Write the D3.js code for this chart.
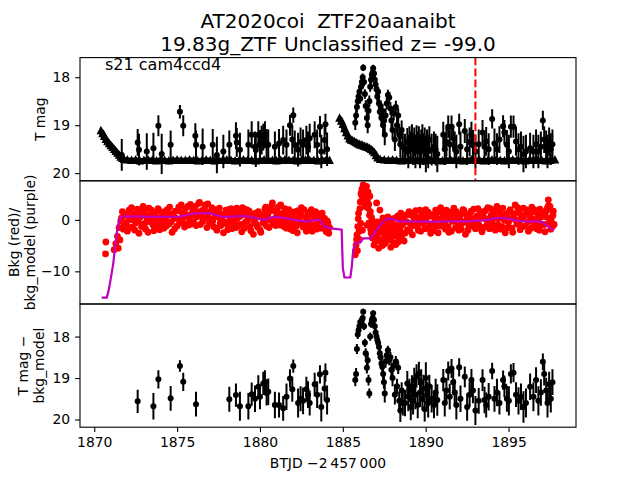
<!DOCTYPE html>
<html><head><meta charset="utf-8">
<script src="https://cdn.jsdelivr.net/npm/d3@7"></script>
<style>
body{margin:0;background:#fff;}
svg text{font-family:"DejaVu Sans",sans-serif;fill:#000;white-space:pre;}
</style></head>
<body><svg id="chart" width="640" height="480"></svg>
<script>
// ---------------- data ----------------
const titleLines = ["AT2020coi  ZTF20aanaibt", "19.83g_ZTF Unclassified z= -99.0"];
const panelNote = "s21 cam4ccd4";
const xLabel = "BTJD \u22122\u2009457\u2009000";
const yLabels = [["T mag"], ["Bkg (red)/", "bkg_model (purple)"], ["T mag \u2212", "bkg_model"]];
const xTicks = [1870, 1875, 1880, 1885, 1890, 1895];
const yTicks1 = [18, 19, 20];
const yTicks2 = [0, -10];
const yTicks3 = [18, 19, 20];
const markerTime = 1893.0;

// upper-limit triangles (TESS), two orbits
const limA = [[1870.40,19.10],[1870.50,19.16],[1870.60,19.22],[1870.70,19.28],[1870.80,19.33],[1870.90,19.37],
[1871.00,19.41],[1871.10,19.45],[1871.20,19.49],[1871.30,19.53],[1871.40,19.57],[1871.50,19.61],[1871.60,19.65],
[1871.70,19.68],[1871.80,19.70],[1872.00,19.71],[1872.25,19.72],[1872.50,19.71],[1872.75,19.73],[1873.00,19.72],
[1873.25,19.71],[1873.50,19.72],[1873.75,19.73],[1874.00,19.71],[1874.25,19.72],[1874.50,19.73],[1874.75,19.72],
[1875.00,19.71],[1875.25,19.72],[1875.50,19.72],[1875.75,19.71],[1876.00,19.72],[1876.25,19.73],[1876.50,19.72],
[1876.75,19.71],[1877.00,19.72],[1877.25,19.73],[1877.50,19.72],[1877.75,19.72],[1878.00,19.71],[1878.25,19.72],
[1878.50,19.73],[1878.75,19.72],[1879.00,19.71],[1879.25,19.72],[1879.50,19.72],[1879.75,19.73],[1880.00,19.72],
[1880.25,19.71],[1880.50,19.72],[1880.75,19.72],[1881.00,19.73],[1881.25,19.72],[1881.50,19.71],[1881.75,19.72],
[1882.00,19.72],[1882.25,19.73],[1882.50,19.72],[1882.75,19.71],[1883.00,19.72],[1883.25,19.72],[1883.50,19.73],
[1883.75,19.72],[1884.00,19.71],[1884.20,19.72]];
const limB = [[1884.80,18.84],[1884.90,18.90],[1885.00,18.97],[1885.10,19.06],[1885.20,19.14],[1885.30,19.21],
[1885.40,19.27],[1885.50,19.30],[1885.60,19.31],[1885.70,19.33],[1885.80,19.35],[1885.90,19.37],[1886.00,19.39],
[1886.10,19.40],[1886.20,19.41],[1886.30,19.43],[1886.40,19.44],[1886.50,19.45],[1886.60,19.47],[1886.70,19.49],
[1886.80,19.52],[1886.90,19.56],[1887.00,19.62],[1887.10,19.67],[1887.25,19.70],[1887.50,19.71],[1887.75,19.72],
[1888.00,19.71],[1888.25,19.72],[1888.50,19.73],[1888.75,19.72],[1889.00,19.71],[1889.25,19.72],[1889.50,19.72],
[1889.75,19.73],[1890.00,19.72],[1890.25,19.71],[1890.50,19.72],[1890.75,19.72],[1891.00,19.73],[1891.25,19.72],
[1891.50,19.71],[1891.75,19.72],[1892.00,19.72],[1892.25,19.73],[1892.50,19.72],[1892.75,19.71],[1893.00,19.72],
[1893.25,19.72],[1893.50,19.73],[1893.75,19.72],[1894.00,19.71],[1894.25,19.72],[1894.50,19.72],[1894.75,19.73],
[1895.00,19.72],[1895.25,19.71],[1895.50,19.72],[1895.75,19.72],[1896.00,19.73],[1896.25,19.72],[1896.50,19.71],
[1896.75,19.72],[1897.00,19.72],[1897.25,19.73],[1897.50,19.72],[1897.80,19.71]];

// detections: [time, T mag, error, T mag - bkg_model (null if not shown)]
const detections = [
[1871.66,19.62,0.33,null],[1872.62,19.36,0.28,19.56],[1872.70,19.51,0.33,null],[1873.17,19.55,0.38,null],
[1873.57,19.48,0.32,19.68],[1873.87,19.01,0.22,19.03],[1874.07,19.60,0.42,null],[1874.61,19.41,0.30,19.49],
[1875.17,18.72,0.14,18.71],[1875.37,19.01,0.22,19.09],[1876.10,19.22,0.26,null],[1876.14,19.41,0.30,19.63],
[1876.54,19.45,0.38,null],[1877.15,19.41,0.33,null],[1877.40,19.62,0.38,null],[1877.79,19.55,0.35,null],
[1878.15,19.41,0.30,19.51],[1878.55,19.22,0.28,19.41],[1878.60,19.36,0.30,null],[1878.79,19.51,0.35,19.68],
[1879.30,19.41,0.32,19.68],[1879.50,19.20,0.28,19.39],[1879.70,19.45,0.32,19.50],[1879.75,19.52,0.35,null],
[1879.90,19.20,0.28,19.21],[1880.00,19.40,0.30,19.45],[1880.10,19.31,0.30,null],[1880.20,19.25,0.28,19.13],
[1880.30,19.20,0.28,19.09],[1880.40,19.38,0.30,19.36],[1880.50,19.41,0.32,19.33],[1880.90,19.45,0.32,19.65],
[1881.15,19.38,0.30,19.65],[1881.40,19.31,0.30,19.73],[1881.60,19.41,0.32,19.45],[1881.81,19.00,0.22,19.01],
[1881.95,19.30,0.30,19.27],[1882.01,18.79,0.16,18.71],[1882.10,19.41,0.30,null],[1882.30,19.51,0.35,19.60],
[1882.45,19.35,0.30,19.50],[1882.60,19.41,0.32,19.55],[1882.80,19.31,0.30,19.27],[1882.90,19.45,0.32,19.40],
[1883.00,19.27,0.30,19.60],[1883.30,19.20,0.28,19.15],[1883.45,19.41,0.32,19.40],[1883.62,19.03,0.22,18.91],
[1883.70,19.55,0.35,19.70],[1883.90,19.31,0.30,19.25],[1883.95,18.98,0.22,18.87],[1884.05,19.50,0.35,19.53],
[1885.75,18.95,0.15,19.05],[1885.80,18.80,0.14,18.90],[1885.85,18.62,0.12,18.30],[1885.90,18.50,0.11,17.95],
[1885.95,18.40,0.10,17.85],[1886.00,18.30,0.10,17.75],[1886.05,18.45,0.10,17.65],[1886.10,18.20,0.09,17.70],
[1886.15,18.10,0.09,17.60],[1886.20,18.00,0.08,17.55],[1886.23,17.80,0.07,17.40],[1886.28,18.10,0.09,17.75],
[1886.33,18.35,0.10,18.15],[1886.38,18.60,0.12,18.40],[1886.45,18.85,0.14,18.75],[1886.50,19.00,0.17,18.57],
[1886.55,18.70,0.13,19.05],[1886.60,18.50,0.12,19.37],[1886.65,18.20,0.10,18.00],[1886.70,18.05,0.09,17.70],
[1886.75,17.95,0.08,17.60],[1886.80,17.90,0.08,17.55],[1886.83,17.81,0.07,17.44],[1886.88,17.92,0.08,17.60],
[1886.93,18.05,0.09,17.75],[1886.98,18.15,0.09,17.90],[1887.03,18.25,0.10,18.00],[1887.08,18.40,0.11,18.08],
[1887.13,18.30,0.10,18.15],[1887.18,18.55,0.12,18.25],[1887.23,18.72,0.13,18.40],[1887.28,18.60,0.12,18.50],
[1887.33,18.85,0.15,18.65],[1887.38,18.70,0.14,18.73],[1887.43,19.00,0.18,18.90],[1887.48,18.90,0.16,19.10],
[1887.53,19.20,0.22,19.37],[1887.58,18.80,0.15,18.60],[1887.65,18.55,0.12,18.45],[1887.72,18.37,0.11,18.33],
[1887.80,18.42,0.12,18.57],[1887.87,18.65,0.13,18.50],[1887.93,18.90,0.16,18.80],[1888.00,19.10,0.20,19.00],
[1888.07,18.75,0.14,18.70],[1888.14,19.30,0.24,19.40],[1888.20,18.62,0.13,18.60],[1888.27,19.00,0.18,19.20],
[1888.34,18.80,0.15,18.75],[1888.40,19.20,0.22,19.55],[1888.47,19.40,0.28,19.78],[1888.55,19.10,0.20,19.30],
[1888.62,19.45,0.30,19.60],[1888.75,19.50,0.32,19.60],[1888.89,19.36,0.30,19.13],[1888.95,19.55,0.35,19.45],
[1889.02,19.30,0.28,19.30],[1889.10,19.45,0.32,19.70],[1889.17,19.25,0.27,19.20],[1889.24,19.50,0.33,19.55],
[1889.31,19.35,0.30,19.05],[1889.38,19.55,0.35,19.40],[1889.45,19.28,0.28,18.95],[1889.52,19.45,0.32,19.65],
[1889.59,19.30,0.28,18.89],[1889.66,19.55,0.35,19.35],[1889.73,19.40,0.31,19.10],[1889.80,19.25,0.27,19.50],
[1889.87,19.50,0.33,19.25],[1889.94,19.35,0.30,19.75],[1890.01,19.60,0.38,19.00],[1890.08,19.40,0.31,19.40],
[1890.15,19.55,0.35,19.60],[1890.22,19.30,0.28,19.20],[1890.36,19.51,0.33,19.50],[1890.50,19.45,0.32,19.65],
[1890.60,19.51,0.33,19.35],[1890.70,19.60,0.38,19.53],[1891.06,19.20,0.27,19.05],[1891.15,19.50,0.33,19.60],
[1891.25,19.35,0.30,19.30],[1891.36,19.03,0.23,18.83],[1891.45,19.40,0.31,19.45],[1891.56,19.03,0.23,18.77],
[1891.66,19.27,0.28,19.10],[1891.75,19.45,0.32,19.35],[1891.85,19.55,0.35,19.65],[1892.02,18.98,0.22,18.74],
[1892.10,19.45,0.32,19.50],[1892.36,19.12,0.25,18.97],[1892.50,19.50,0.33,19.70],[1892.65,19.35,0.30,19.40],
[1892.76,19.20,0.27,19.05],[1892.85,19.41,0.31,19.30],[1893.00,19.55,0.35,19.78],[1893.20,19.40,0.31,19.55],
[1893.43,19.15,0.26,19.05],[1893.55,19.45,0.32,19.53],[1893.65,19.34,0.30,19.65],[1893.80,19.50,0.33,19.45],
[1894.01,18.87,0.20,18.83],[1894.15,19.38,0.31,19.50],[1894.30,19.50,0.33,19.35],[1894.45,19.30,0.28,19.60],
[1894.67,19.02,0.23,19.05],[1894.75,19.15,0.26,19.20],[1894.90,19.41,0.31,19.50],[1895.02,19.55,0.35,19.55],
[1895.14,19.03,0.23,18.90],[1895.30,19.03,0.23,18.87],[1895.45,19.34,0.30,19.40],[1895.60,19.50,0.33,19.55],
[1895.75,19.45,0.32,19.45],[1895.90,19.60,0.38,19.70],[1896.05,19.55,0.35,19.60],[1896.30,19.48,0.32,19.21],
[1896.50,19.55,0.35,19.45],[1896.66,19.40,0.31,19.05],[1896.80,19.55,0.35,19.55],[1896.95,19.45,0.32,19.35],
[1897.07,18.90,0.20,18.61],[1897.15,19.30,0.28,18.90],[1897.27,19.42,0.31,19.30],[1897.35,19.55,0.35,19.60],
[1897.45,19.35,0.30,19.15],[1897.55,19.50,0.33,19.50],[1897.65,19.40,0.31,19.10]];

// background flux (red points), read in two interleaved passes
const bkgPts = [
[1870.70,-4.3],[1870.68,-6.6],[1871.20,-5.8],[1871.30,-4.6],[1871.40,-3.2],[1871.45,-5.5],[1871.50,-1.5],[1871.55,-3.9],
[1871.60,-0.2],[1871.70,1.6],[1871.80,-1.0],[1871.90,0.9],[1872.00,-2.2],[1872.10,1.9],[1872.20,0.1],[1872.30,-1.4],
[1872.40,1.2],[1872.50,-0.6],[1872.60,2.1],[1872.70,-2.6],[1872.80,0.6],[1872.90,-0.9],[1873.00,1.5],[1873.10,-1.8],
[1873.20,0.3],[1873.30,2.3],[1873.40,-0.4],[1873.50,1.0],[1873.60,-2.1],[1873.70,0.7],[1873.80,-1.1],[1873.90,1.8],
[1874.00,-0.3],[1874.10,1.3],[1874.20,-1.6],[1874.30,0.2],[1874.40,2.0],[1874.50,-0.8],[1874.60,1.1],[1874.70,-2.4],
[1874.80,0.5],[1874.90,1.7],[1875.00,-1.2],[1875.10,2.5],[1875.20,0.0],[1875.30,1.4],[1875.40,-0.7],[1875.50,2.2],
[1875.60,0.8],[1875.70,-1.0],[1875.80,3.0],[1875.90,1.2],[1876.00,-0.4],[1876.10,2.6],[1876.20,0.6],[1876.30,3.2],
[1876.40,-0.9],[1876.50,1.8],[1876.60,0.3],[1876.70,2.9],[1876.80,-1.5],[1876.90,1.4],[1877.00,0.2],[1877.10,2.4],
[1877.20,-1.3],[1877.30,0.9],[1877.40,-2.0],[1877.50,1.5],[1877.60,-0.6],[1877.70,0.4],[1877.80,-2.5],[1877.90,1.2],
[1878.00,-0.8],[1878.10,2.0],[1878.20,0.1],[1878.30,-1.7],[1878.40,1.6],[1878.50,-0.2],[1878.60,2.3],[1878.70,-1.1],
[1878.80,0.7],[1878.90,-2.3],[1879.00,1.3],[1879.10,-0.5],[1879.20,2.0],[1879.30,0.4],[1879.40,-1.4],[1879.50,1.1],
[1879.60,-2.8],[1879.70,0.2],[1879.80,-0.9],[1879.90,1.6],[1880.00,-1.9],[1880.10,0.5],[1880.20,-0.6],[1880.30,2.1],
[1880.40,-1.2],[1880.50,1.3],[1880.60,0.0],[1880.70,2.7],[1880.80,-0.8],[1880.90,1.7],[1881.00,0.6],[1881.10,2.5],
[1881.20,-1.0],[1881.30,1.2],[1881.40,-0.3],[1881.50,2.2],[1881.60,-1.6],[1881.70,0.8],[1881.80,-0.7],[1881.90,1.5],
[1882.00,-2.1],[1882.10,0.3],[1882.20,-1.2],[1882.30,1.8],[1882.40,-0.5],[1882.50,2.4],[1882.60,-1.4],[1882.70,0.6],
[1882.80,-2.2],[1882.90,1.4],[1883.00,-0.4],[1883.10,2.0],[1883.20,-1.0],[1883.30,0.9],[1883.40,-1.8],[1883.50,1.2],
[1883.60,-0.2],[1883.70,0.9],[1883.80,-1.4],[1883.90,0.3],[1884.00,-2.3],[1884.10,-0.6],[1884.20,-1.5],
[1885.75,-6.8],[1885.80,-4.9],[1885.85,-2.9],[1885.90,-1.3],[1885.95,1.3],[1886.00,-3.8],[1886.05,3.5],[1886.10,5.2],
[1886.13,4.8],[1886.18,-2.0],[1886.23,6.8],[1886.28,3.3],[1886.33,5.9],[1886.38,4.2],[1886.43,6.5],[1886.48,3.9],
[1886.53,5.4],[1886.58,-0.6],[1886.63,4.6],[1886.68,-1.8],[1886.73,0.5],[1886.78,-3.5],[1886.83,-0.8],[1886.88,-4.9],
[1886.93,-1.6],[1886.98,-2.8],[1887.04,3.3],[1887.10,-0.4],[1887.16,-5.5],[1887.24,1.9],[1887.30,-2.2],[1887.36,-3.9],
[1887.42,0.4],[1887.48,-1.4],[1887.54,-4.6],[1887.60,-0.9],[1887.66,-2.8],[1887.72,0.6],[1887.78,-3.4],[1887.84,-1.2],
[1887.90,-5.3],[1887.96,-2.0],[1888.02,0.2],[1888.08,-3.1],[1888.14,-1.0],[1888.20,-4.8],[1888.26,-2.4],[1888.32,0.8],
[1888.38,-3.6],[1888.44,-1.5],[1888.50,1.3],[1888.56,-2.7],[1888.62,-0.6],[1888.70,-4.1],[1888.80,0.9],[1888.90,-1.9],
[1889.00,1.6],[1889.10,-0.8],[1889.20,-2.9],[1889.30,0.3],[1889.40,1.8],[1889.50,-1.3],[1889.60,0.5],[1889.70,-2.2],
[1889.80,1.2],[1889.90,-0.4],[1890.00,2.0],[1890.10,-1.6],[1890.20,0.7],[1890.30,-2.6],[1890.40,1.0],[1890.50,-0.9],
[1890.60,1.9],[1890.70,-1.2],[1890.80,0.2],[1890.90,2.4],[1891.00,-0.7],[1891.10,1.3],[1891.20,-1.8],[1891.30,0.6],
[1891.40,-2.4],[1891.50,1.5],[1891.60,-0.3],[1891.70,2.3],[1891.80,-1.5],[1891.90,0.4],[1892.00,-2.0],[1892.10,1.1],
[1892.20,-0.6],[1892.30,1.9],[1892.40,-2.8],[1892.50,0.3],[1892.60,-1.1],[1892.70,1.4],[1892.80,-0.2],[1892.90,2.1],
[1893.00,-1.7],[1893.10,0.8],[1893.20,-0.9],[1893.30,1.6],[1893.40,-2.3],[1893.50,0.5],[1893.60,1.8],[1893.70,-1.0],
[1893.80,0.2],[1893.90,2.2],[1894.00,-0.6],[1894.10,1.4],[1894.20,-2.0],[1894.30,2.6],[1894.40,0.3],[1894.50,1.9],
[1894.60,-1.3],[1894.70,0.9],[1894.80,-2.5],[1894.90,1.2],[1895.00,-0.4],[1895.10,2.0],[1895.20,-1.6],[1895.30,0.6],
[1895.40,2.9],[1895.50,-0.8],[1895.60,1.5],[1895.70,-1.9],[1895.80,0.4],[1895.90,2.3],[1896.00,-1.2],[1896.10,1.0],
[1896.20,-2.2],[1896.30,0.7],[1896.40,2.5],[1896.50,-0.5],[1896.60,1.6],[1896.70,-1.7],[1896.80,0.3],[1896.90,2.1],
[1897.00,-1.0],[1897.10,0.9],[1897.20,-2.3],[1897.30,1.8],[1897.40,3.9],[1897.45,-0.6],[1897.50,2.6],[1897.55,-1.8],
[1897.60,0.5],[1897.65,-1.3],[1897.70,1.7],[1897.75,-0.9]];
const bkgPtsB = [
[1871.65,0.4],[1871.75,-1.8],[1871.85,1.1],[1871.95,-0.5],[1872.05,0.8],[1872.15,-1.5],[1872.25,2.4],[1872.35,0.0],
[1872.45,-2.0],[1872.55,0.9],[1872.65,-0.2],[1872.75,1.7],[1872.85,-1.3],[1872.95,2.6],[1873.05,-0.7],[1873.15,1.0],
[1873.25,-2.4],[1873.35,0.5],[1873.45,1.9],[1873.55,-1.0],[1873.65,1.4],[1873.75,-0.1],[1873.85,2.2],[1873.95,-1.9],
[1874.05,0.6],[1874.15,-0.9],[1874.25,1.6],[1874.35,-1.2],[1874.45,0.9],[1874.55,2.5],[1874.65,-0.4],[1874.75,1.2],
[1874.85,-1.7],[1874.95,0.3],[1875.05,1.8],[1875.15,-0.6],[1875.25,2.9],[1875.35,0.4],[1875.45,-1.4],[1875.55,1.0],
[1875.65,2.6],[1875.75,0.1],[1875.85,-0.8],[1875.95,2.0],[1876.05,0.9],[1876.15,-1.1],[1876.25,1.5],[1876.35,3.4],
[1876.45,0.7],[1876.55,-0.3],[1876.65,2.2],[1876.75,0.5],[1876.85,3.1],[1876.95,-0.6],[1877.05,1.7],[1877.15,-0.2],
[1877.25,2.0],[1877.35,-1.6],[1877.45,0.6],[1877.55,2.3],[1877.65,-1.1],[1877.75,1.0],[1877.85,-0.4],[1877.95,1.9],
[1878.05,-1.9],[1878.15,0.8],[1878.25,2.2],[1878.35,-0.6],[1878.45,1.1],[1878.55,-1.5],[1878.65,0.3],[1878.75,1.8],
[1878.85,-0.9],[1878.95,2.4],[1879.05,-1.6],[1879.15,0.9],[1879.25,-0.3],[1879.35,1.7],[1879.45,-2.1],[1879.55,0.5],
[1879.65,-0.6],[1879.75,1.3],[1879.85,-1.4],[1879.95,0.8],[1880.05,-2.4],[1880.15,1.0],[1880.25,-0.2],[1880.35,2.5],
[1880.45,0.4],[1880.55,-1.5],[1880.65,1.9],[1880.75,3.3],[1880.85,0.2],[1880.95,-1.1],[1881.05,1.4],[1881.15,-0.5],
[1881.25,2.9],[1881.35,0.5],[1881.45,-1.3],[1881.55,1.0],[1881.65,-0.4],[1881.75,2.0],[1881.85,-1.8],[1881.95,0.6],
[1882.05,-0.9],[1882.15,1.6],[1882.25,-2.5],[1882.35,0.4],[1882.45,1.1],[1882.55,-0.8],[1882.65,2.0],[1882.75,-1.1],
[1882.85,0.2],[1882.95,-1.7],[1883.05,1.1],[1883.15,-2.2],[1883.25,0.6],[1883.35,1.6],[1883.45,-0.7],[1883.55,0.4],
[1883.65,-1.6],[1883.75,1.3],[1883.85,-0.4],[1883.95,-1.9],[1884.05,-0.2],[1884.15,-2.6],
[1885.78,-5.9],[1885.83,-3.8],[1885.88,-6.0],[1885.93,0.2],[1885.98,-2.2],[1886.03,2.2],[1886.08,-0.7],[1886.15,6.0],
[1886.20,4.0],[1886.26,5.6],[1886.31,6.2],[1886.36,2.6],[1886.41,5.1],[1886.46,-1.0],[1886.51,2.3],[1886.56,3.0],
[1886.61,0.9],[1886.66,1.6],[1886.71,-2.6],[1886.76,-0.2],[1886.81,-2.2],[1886.86,-3.4],[1886.91,-0.4],[1886.96,-4.2],
[1887.01,-1.0],[1887.07,-3.2],[1887.13,-1.9],[1887.20,-4.1],[1887.27,-0.6],[1887.33,-1.2],[1887.39,-5.0],[1887.45,-2.7],
[1887.51,-0.5],[1887.57,-3.0],[1887.63,-1.8],[1887.69,-4.0],[1887.75,-2.0],[1887.81,-0.3],[1887.87,-3.8],[1887.93,-0.8],
[1887.99,-2.9],[1888.05,-4.4],[1888.11,-1.8],[1888.17,0.4],[1888.23,-2.9],[1888.29,-1.1],[1888.35,-4.3],[1888.41,0.1],
[1888.47,-2.2],[1888.53,-3.4],[1888.59,-1.0],[1888.66,0.6],[1888.75,-2.6],[1888.85,-0.4],[1888.95,1.1],[1889.05,-2.2],
[1889.15,0.9],[1889.25,-1.1],[1889.35,1.4],[1889.45,-0.3],[1889.55,-2.0],[1889.65,1.9],[1889.75,-0.6],[1889.85,0.7],
[1889.95,-1.7],[1890.05,0.4],[1890.15,1.5],[1890.25,-1.0],[1890.35,0.9],[1890.45,-2.1],[1890.55,0.1],[1890.65,1.3],
[1890.75,-2.5],[1890.85,1.6],[1890.95,-1.2],[1891.05,0.7],[1891.15,-0.5],[1891.25,1.9],[1891.35,-1.3],[1891.45,0.4],
[1891.55,-2.2],[1891.65,1.1],[1891.75,-0.2],[1891.85,1.6],[1891.95,-1.1],[1892.05,0.3],[1892.15,-1.8],[1892.25,2.0],
[1892.35,-0.4],[1892.45,1.0],[1892.55,-2.0],[1892.65,0.5],[1892.75,1.7],[1892.85,-1.2],[1892.95,0.3],[1893.05,-0.5],
[1893.15,2.2],[1893.25,-1.6],[1893.35,0.4],[1893.45,1.2],[1893.55,-1.4],[1893.65,0.1],[1893.75,2.4],[1893.85,-1.7],
[1893.95,0.9],[1894.05,-1.2],[1894.15,0.4],[1894.25,2.1],[1894.35,-0.9],[1894.45,1.3],[1894.55,-1.8],[1894.65,2.3],
[1894.75,-0.1],[1894.85,1.0],[1894.95,-1.5],[1895.05,1.6],[1895.15,0.2],[1895.25,-2.4],[1895.35,1.2],[1895.45,0.0],
[1895.55,2.4],[1895.65,-0.6],[1895.75,1.0],[1895.85,-1.3],[1895.95,0.8],[1896.05,2.0],[1896.15,-0.4],[1896.25,1.4],
[1896.35,-1.6],[1896.45,0.2],[1896.55,2.0],[1896.65,-0.8],[1896.75,1.2],[1896.85,-2.0],[1896.95,0.5],[1897.05,1.6],
[1897.15,-0.9],[1897.25,0.6],[1897.35,2.4],[1897.42,2.8],[1897.48,0.3],[1897.58,-0.4],[1897.68,0.9]];

// background model (purple line)
const bkgModel = [
[1870.45,-15.1],[1870.75,-15.1],[1870.85,-14.0],[1870.95,-12.3],[1871.05,-10.4],[1871.15,-8.4],[1871.25,-5.5],
[1871.36,-2.6],[1871.45,-0.9],[1871.52,0.0],[1871.65,0.6],[1871.76,0.7],[1873.00,0.65],[1874.00,0.6],[1875.17,0.65],
[1875.70,1.0],[1876.18,1.3],[1876.98,1.3],[1877.40,0.9],[1877.79,0.55],[1878.50,0.7],[1879.20,0.75],[1879.80,0.3],
[1880.20,0.0],[1880.60,0.4],[1881.00,0.65],[1881.60,0.3],[1882.20,-0.1],[1882.80,-0.35],[1883.20,-0.1],[1883.60,0.0],
[1883.90,-1.3],[1884.20,-1.6],[1884.93,-1.9],[1885.00,-9.4],[1885.10,-11.2],[1885.45,-11.2],[1885.53,-9.4],
[1885.63,-5.8],[1885.80,-4.4],[1886.04,-4.4],[1886.24,-3.6],[1886.64,-3.6],[1886.84,-2.9],[1887.04,-1.95],
[1887.34,-0.65],[1887.64,0.2],[1887.95,0.2],[1888.24,-0.1],[1888.55,-0.3],[1889.00,-0.3],[1889.50,-0.35],
[1890.00,-0.3],[1890.50,-0.4],[1891.00,-0.3],[1891.50,-0.3],[1892.00,-0.25],[1892.50,-0.3],[1893.00,-0.2],
[1893.50,-0.1],[1894.00,0.2],[1894.30,0.35],[1894.80,0.35],[1895.20,0.1],[1895.60,-0.2],[1896.00,-0.3],
[1896.50,-0.3],[1896.90,-0.3],[1897.20,-0.8],[1897.50,-1.6],[1897.72,-2.0]];

// ---------------- layout ----------------
const L = 80, R = 576;
const P = [{t:57.6,b:180.8},{t:180.8,b:304},{t:304,b:427.2}];
const svg = d3.select("#chart");
const x = d3.scaleLinear().domain([1869.14, 1899.07]).range([L, R]);
const y1 = d3.scaleLinear().domain([17.59, 20.16]).range([P[0].t, P[0].b]);
const y2 = d3.scaleLinear().domain([7.6, -16.35]).range([P[1].t, P[1].b]);
const y3 = d3.scaleLinear().domain([17.215, 20.185]).range([P[2].t, P[2].b]);
const fmt = d => d < 0 ? "\u2212" + Math.abs(d) : String(d);

const defs = svg.append("defs");
P.forEach((p, i) => {
  defs.append("clipPath").attr("id", "clip" + i).append("rect")
    .attr("x", L).attr("y", p.t).attr("width", R - L).attr("height", p.b - p.t);
});

// ---- panel 1
const g1 = svg.append("g").attr("clip-path", "url(#clip0)");
const triPath = "M0,-4.3L4.3,4.3L-4.3,4.3Z";
const limLine = d3.line().x(d => x(d[0])).y(d => y1(d[1]) + 1);
[limA, limB].forEach(seg => {
  g1.append("path").attr("d", limLine(seg)).attr("fill", "none")
    .attr("stroke", "#000").attr("stroke-width", 6).attr("stroke-linejoin", "round");
  g1.selectAll(null).data(seg).enter().append("path")
    .attr("d", triPath).attr("transform", d => `translate(${x(d[0])},${y1(d[1])})`)
    .attr("fill", "#000");
});
g1.selectAll(null).data(detections).enter().append("line")
  .attr("x1", d => x(d[0])).attr("x2", d => x(d[0]))
  .attr("y1", d => y1(d[1] - d[2])).attr("y2", d => y1(d[1] + d[2]))
  .attr("stroke", "#000").attr("stroke-width", 2);
g1.selectAll(null).data(detections).enter().append("circle")
  .attr("cx", d => x(d[0])).attr("cy", d => y1(d[1])).attr("r", 3).attr("fill", "#000");
g1.append("line").attr("x1", x(markerTime)).attr("x2", x(markerTime))
  .attr("y1", P[0].t).attr("y2", P[0].b)
  .attr("stroke", "#ff0000").attr("stroke-width", 2).attr("stroke-dasharray", "7.7,3.3");

// ---- panel 2
const g2 = svg.append("g").attr("clip-path", "url(#clip1)");
g2.selectAll(null).data(bkgPts.concat(bkgPtsB)).enter().append("circle")
  .attr("cx", d => x(d[0])).attr("cy", d => y2(d[1])).attr("r", 3.4).attr("fill", "#ff0000");
g2.append("path").attr("d", d3.line().x(d => x(d[0])).y(d => y2(d[1]))(bkgModel))
  .attr("fill", "none").attr("stroke", "#bf00bf").attr("stroke-width", 2.2);

// ---- panel 3
const g3 = svg.append("g").attr("clip-path", "url(#clip2)");
const corr = detections.filter(d => d[3] !== null);
g3.selectAll(null).data(corr).enter().append("line")
  .attr("x1", d => x(d[0])).attr("x2", d => x(d[0]))
  .attr("y1", d => y3(d[3] - d[2])).attr("y2", d => y3(d[3] + d[2]))
  .attr("stroke", "#000").attr("stroke-width", 2);
g3.selectAll(null).data(corr).enter().append("circle")
  .attr("cx", d => x(d[0])).attr("cy", d => y3(d[3])).attr("r", 3).attr("fill", "#000");

// ---- frames and axes
P.forEach(p => {
  svg.append("rect").attr("x", L).attr("y", p.t).attr("width", R - L).attr("height", p.b - p.t)
    .attr("fill", "none").attr("stroke", "#000").attr("stroke-width", 1.1);
});
function styleAxis(g) {
  g.select(".domain").remove();
  g.selectAll(".tick line").attr("stroke", "#000").attr("stroke-width", 1.1);
  g.selectAll(".tick text").style("font-size", "13.9px").style("font-family", "DejaVu Sans");
}
[[y1, yTicks1], [y2, yTicks2], [y3, yTicks3]].forEach(([sc, tv]) => {
  svg.append("g").attr("transform", `translate(${L},0)`)
    .call(d3.axisLeft(sc).tickValues(tv).tickFormat(fmt).tickSize(4.9).tickPadding(4.9))
    .call(styleAxis);
});
svg.append("g").attr("transform", `translate(0,${P[2].b})`)
  .call(d3.axisBottom(x).tickValues(xTicks).tickFormat(d3.format("d")).tickSize(4.9).tickPadding(4.9))
  .call(styleAxis);

// ---- texts
svg.selectAll(null).data(titleLines).enter().append("text")
  .attr("x", (L + R) / 2).attr("y", (d, i) => 27.5 + i * 23.5)
  .attr("text-anchor", "middle").style("font-size", "20px").text(d => d);
svg.append("text").attr("x", 105).attr("y", 70).style("font-size", "16px").text(panelNote);
svg.append("text").attr("x", (L + R) / 2).attr("y", 468).attr("text-anchor", "middle")
  .style("font-size", "13.9px").text(xLabel);
const labelX = [[44.5], [19, 35.2], [27.5, 43.7]];
yLabels.forEach((lines, i) => {
  const cy = (P[i].t + P[i].b) / 2;
  lines.forEach((ln, j) => {
    svg.append("text").attr("transform", `translate(${labelX[i][j]},${cy}) rotate(-90)`)
      .attr("text-anchor", "middle").style("font-size", "13.9px").text(ln);
  });
});
</script></body></html>
